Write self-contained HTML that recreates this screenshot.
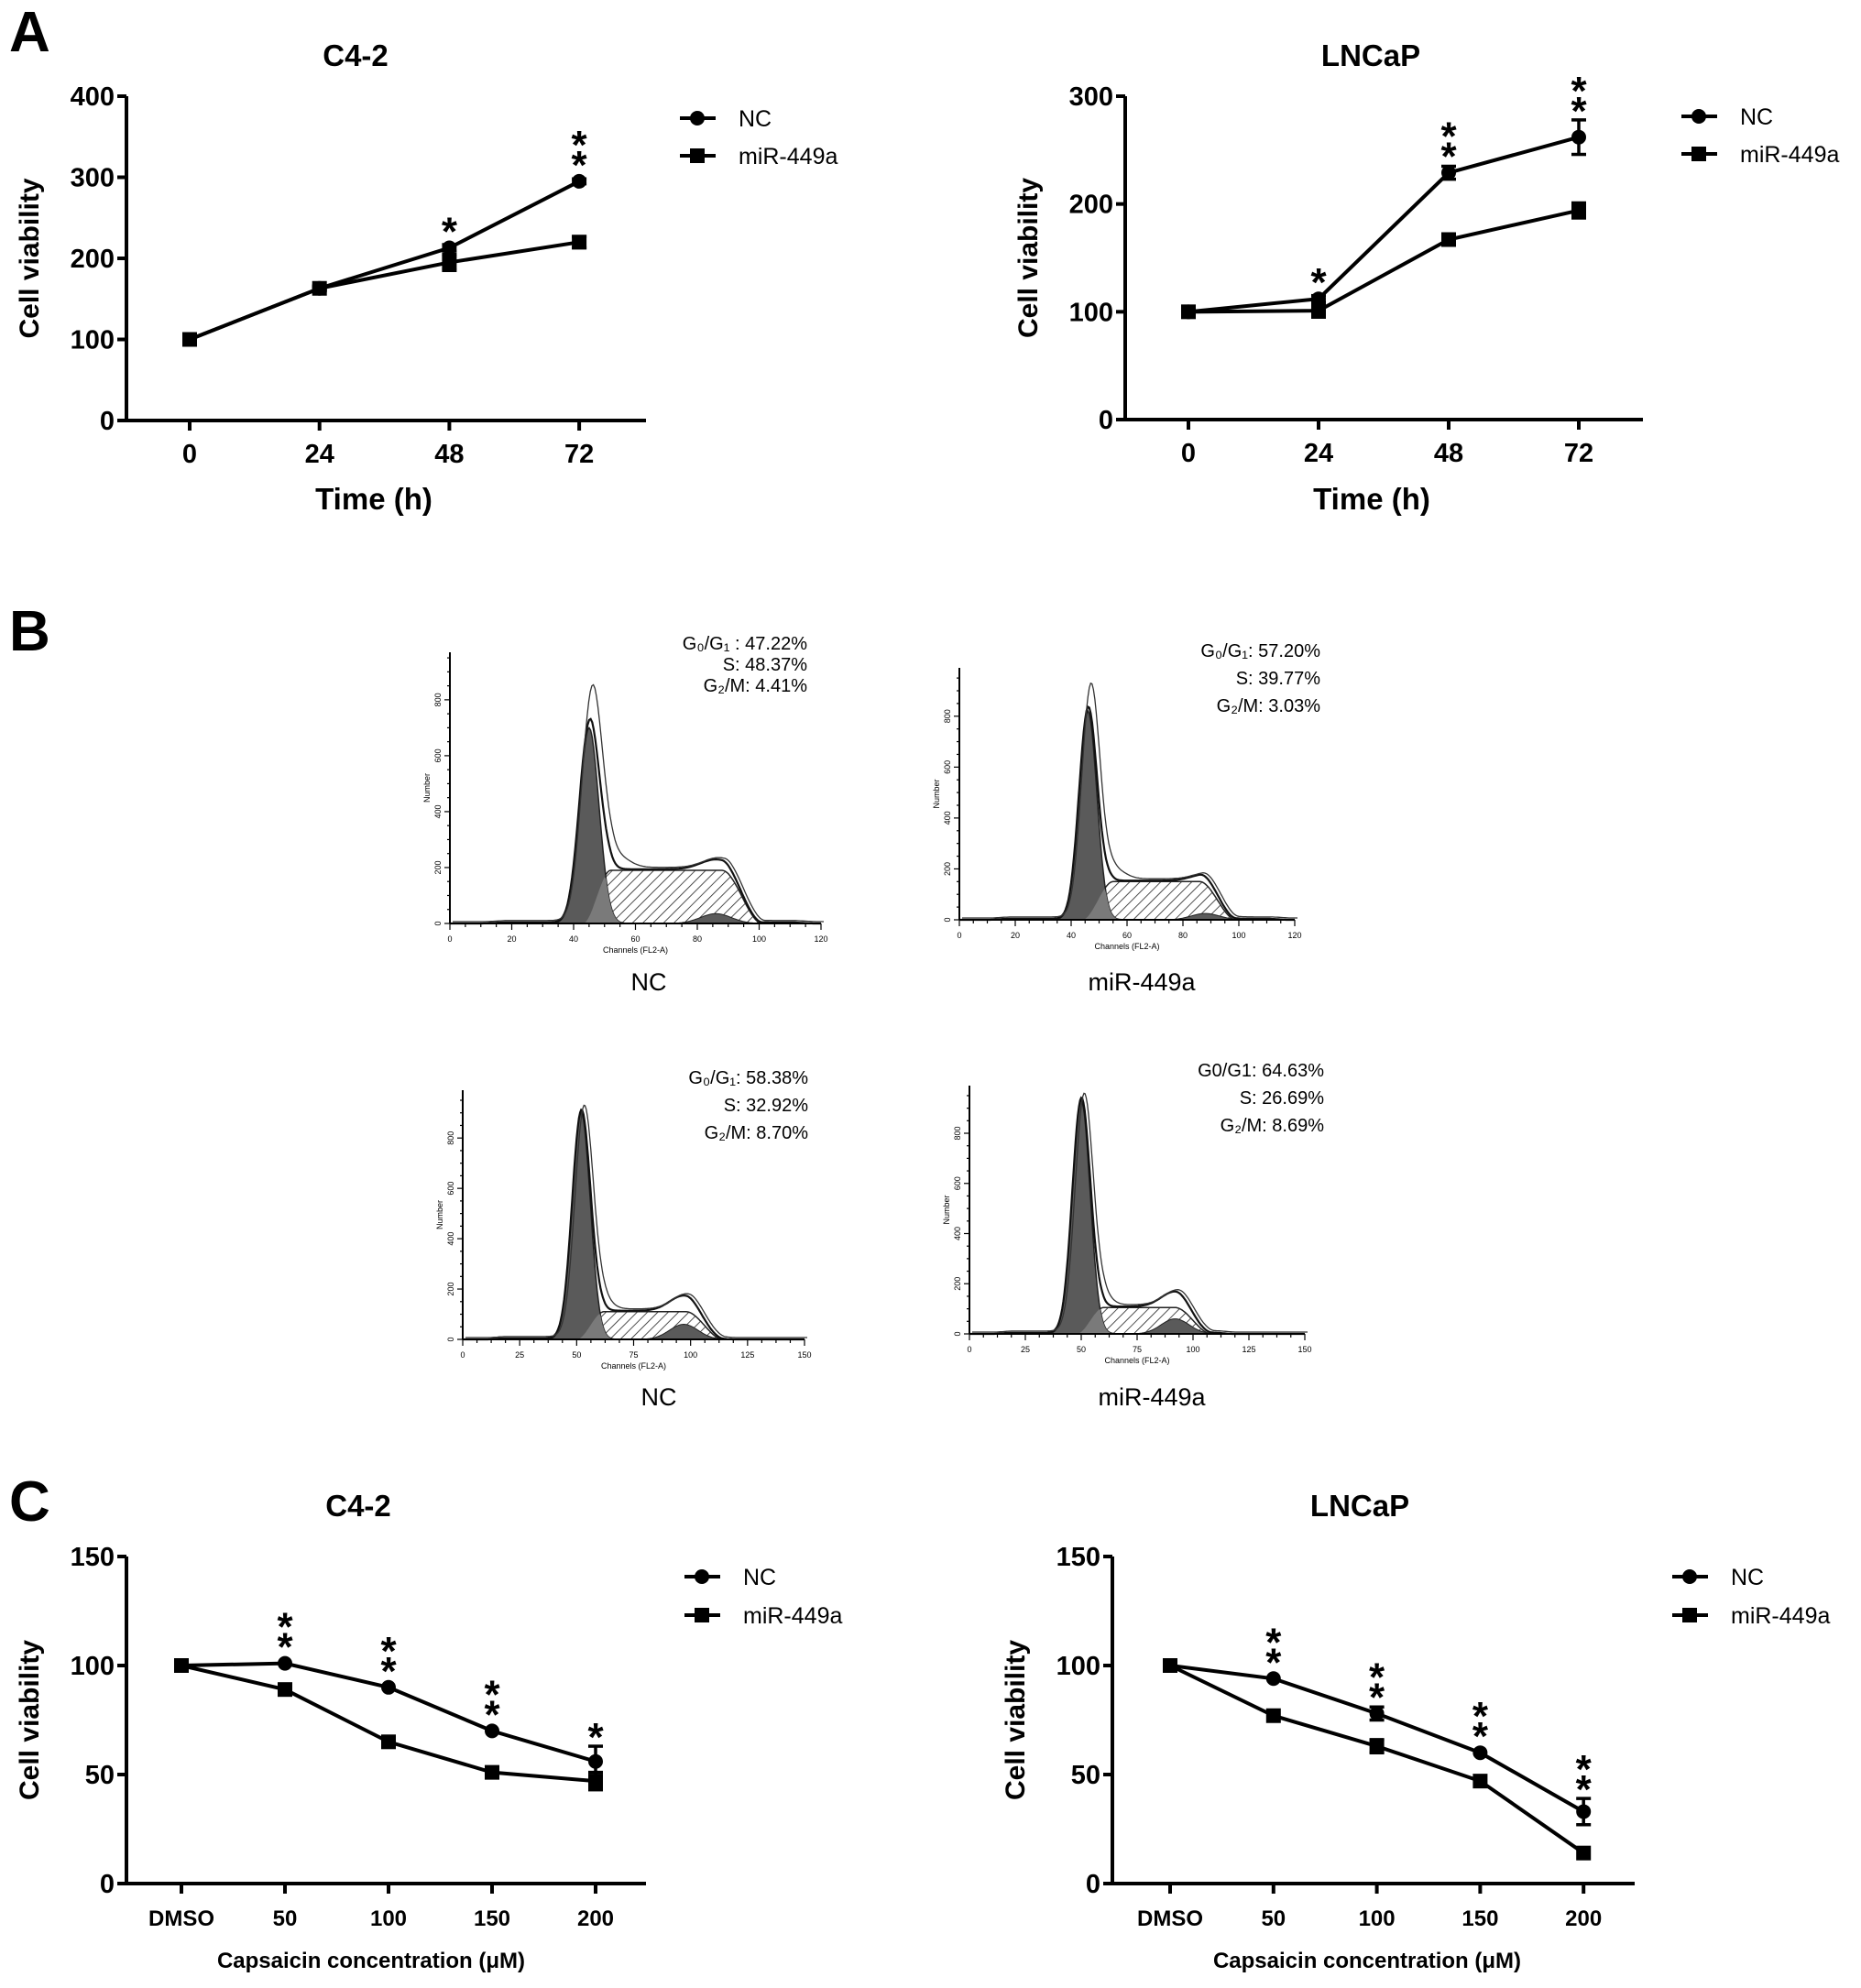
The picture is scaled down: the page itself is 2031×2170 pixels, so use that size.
<!DOCTYPE html>
<html><head><meta charset="utf-8"><style>
html,body{margin:0;padding:0;background:#fff}
svg{display:block}
.tk{font-family:"Liberation Sans Narrow","Liberation Sans",sans-serif;font-weight:bold;font-size:29px}
.tkc{font-family:"Liberation Sans",sans-serif;font-weight:bold;font-size:24px}
.ttl{font-family:"Liberation Sans Narrow","Liberation Sans",sans-serif;font-weight:bold;font-size:33px}
.yl{font-family:"Liberation Sans",sans-serif;font-weight:bold;font-size:30px}
.lg{font-family:"Liberation Sans",sans-serif;font-size:25px}
.pl{font-family:"Liberation Sans",sans-serif;font-weight:bold;font-size:62px}
.st{font-family:"Liberation Sans",sans-serif;font-weight:bold;font-size:44px}
.fa{font-family:"Liberation Sans Narrow","Liberation Sans",sans-serif;font-size:20px}
.fl{font-family:"Liberation Sans",sans-serif;font-size:27px}
.sm{font-family:"Liberation Sans",sans-serif;font-size:9px}
</style></head><body>
<svg id="fig" width="2031" height="2170" viewBox="0 0 2031 2170" xmlns="http://www.w3.org/2000/svg">
<defs><pattern id="hatch" patternUnits="userSpaceOnUse" width="8" height="8" patternTransform="rotate(45)"><line x1="0" y1="0" x2="0" y2="8" stroke="#222" stroke-width="1.6"/></pattern></defs>
<text class="pl" x="10" y="56">A</text>
<text class="pl" x="10" y="710">B</text>
<text class="pl" x="10" y="1660">C</text>
</svg>
<script>
// ---- Panel A left (C4-2 time) ----
const aCats=["0","24","48","72"];
const aLeftNC=[100,163,213,295];
const aLeftNCErr=[0,2,4,3];
const aLeftMiR=[100,163,195,220];
const aLeftMiRErr=[0,3,10,7];
const aLeftStars=[0,0,1,2];
const aLeftTicks=[0,100,200,300,400];
// ---- Panel A right (LNCaP time) ----
const aRightNC=[100,112,229,262];
const aRightNCErr=[0,3,6,16];
const aRightMiR=[100,101,167,194];
const aRightMiRErr=[0,6,4,7];
const aRightStars=[0,1,2,2];
const aRightTicks=[0,100,200,300];
// ---- Panel C ----
const cCats=["DMSO","50","100","150","200"];
const cLeftNC=[100,101,90,70,56];
const cLeftNCErr=[1,1,1,1,7];
const cLeftMiR=[100,89,65,51,47];
const cLeftMiRErr=[1,1,2,1,4];
const cLeftStars=[0,2,2,2,1];
const cRightNC=[100,94,78,60,33];
const cRightNCErr=[1,1,3,1,6];
const cRightMiR=[100,77,63,47,14];
const cRightMiRErr=[1,1,3,1,1];
const cRightStars=[0,2,2,2,2];
const cTicks=[0,50,100,150];
// ---- Panel B histograms: [G1 mean, G1 height, raw peak, S level, S start, S end, G2 mean, G2 height]
const bNC1=[45,700,810,190,52,88,86,35];
const bMiR1=[46,820,900,150,55,86,88,25];
const bNC2=[52,900,905,110,62,98,97,60];
const bMiR2=[50,930,935,105,60,92,92,60];
const bText1=["G\u2080/G\u2081 : 47.22%","S: 48.37%","G\u2082/M:   4.41%"];
const bText2=["G\u2080/G\u2081:  57.20%","S:  39.77%","G\u2082/M:    3.03%"];
const bText3=["G\u2080/G\u2081:  58.38%","S:  32.92%","G\u2082/M:    8.70%"];
const bText4=["G0/G1: 64.63%","S: 26.69%","G\u2082/M:    8.69%"];

const svg=document.getElementById('fig');
const NS="http://www.w3.org/2000/svg";
function mk(tag,attrs,parent){const e=document.createElementNS(NS,tag);for(const k in attrs)e.setAttribute(k,attrs[k]);(parent||svg).appendChild(e);return e;}

function lineChart(c){
  const g=mk('g',{});
  
  
  const ys=v=>c.y0-(v/c.ymax)*(c.y0-c.ytop);
  const xs=i=>c.x0+i*c.dx;
  const ax=mk('line',{x1:c.ax,y1:c.ytop,x2:c.ax,y2:c.y0,stroke:'#000','stroke-width':4},g);
  
  
  const bx=mk('line',{x1:c.ax-10,y1:c.y0,x2:c.xend,y2:c.y0,stroke:'#000','stroke-width':4},g);
  
  
  c.ticks.forEach(t=>{
    mk('line',{x1:c.ax-10,y1:ys(t),x2:c.ax,y2:ys(t),stroke:'#000','stroke-width':4},g);
    const tx=mk('text',{x:c.ax-13,y:ys(t)+10,'text-anchor':'end',class:'tk'},g);
    tx.textContent=t;
    
    
  });
  c.cats.forEach((cat,i)=>{
    mk('line',{x1:xs(i),y1:c.y0,x2:xs(i),y2:c.y0+11,stroke:'#000','stroke-width':4},g);
    const tx=mk('text',{x:xs(i),y:c.y0+46,'text-anchor':'middle',class:c.tkClass},g);
    tx.textContent=cat;
    
    
  });
  const t=mk('text',{x:c.tx,y:c.ty,'text-anchor':'middle',class:'ttl'},g);t.textContent=c.title;
  
  
  const yl=mk('text',{x:0,y:0,'text-anchor':'middle',class:'yl',transform:`translate(${c.ax-96},${(c.ytop+c.y0)/2}) rotate(-90)`},g);yl.textContent='Cell viability';
  
  
  const xl=mk('text',{x:c.xlx,y:c.xly,'text-anchor':'middle',class:c.xlClass},g);xl.textContent=c.xlabel;
  
  
  [[c.miR,c.miRErr,'sq','miR-449a'],[c.nc,c.ncErr,'ci','NC']].forEach(([vals,errs,m,nm])=>{
    const pts=vals.map((v,i)=>xs(i)+','+ys(v)).join(' ');
    const pl=mk('polyline',{points:pts,fill:'none',stroke:'#000','stroke-width':4},g);
    
    
    vals.forEach((v,i)=>{
      const e=errs[i];
      if(e>1.5){
        mk('line',{x1:xs(i),y1:ys(v+e),x2:xs(i),y2:ys(v-e),stroke:'#000','stroke-width':3.5},g);
        mk('line',{x1:xs(i)-8,y1:ys(v+e),x2:xs(i)+8,y2:ys(v+e),stroke:'#000','stroke-width':3.5},g);
        mk('line',{x1:xs(i)-8,y1:ys(v-e),x2:xs(i)+8,y2:ys(v-e),stroke:'#000','stroke-width':3.5},g);
      }
      let mEl;
      if(m==='sq') mEl=mk('rect',{x:xs(i)-8,y:ys(v)-8,width:16,height:16,fill:'#000'},g);
      else mEl=mk('circle',{cx:xs(i),cy:ys(v),r:8,fill:'#000'},g);
      
      
    });
  });
  c.stars.forEach((n,i)=>{
    const top=Math.min(ys(c.nc[i]+c.ncErr[i]),ys(c.nc[i])-8);
    for(let k=0;k<n;k++){
      const cy=top-20-k*22;
      const s=mk('text',{x:xs(i),y:cy+25,'text-anchor':'middle',class:'st'},g);
      s.textContent='*';
      
      
    }
  });
  [['NC','ci',0],['miR-449a','sq',1]].forEach(([nm,m,k])=>{
    const ly=c.ly+k*c.lgap;
    const lg=mk('g',{},g);
    
    
    mk('line',{x1:c.lx,y1:ly,x2:c.lx+39,y2:ly,stroke:'#000','stroke-width':4},lg);
    if(m==='ci')mk('circle',{cx:c.lx+19,cy:ly,r:8,fill:'#000'},lg);
    else mk('rect',{x:c.lx+11,y:ly-8,width:16,height:16,fill:'#000'},lg);
    const lt=mk('text',{x:c.lx+64,y:ly+9,class:'lg'},lg);lt.textContent=nm;
  });
}

lineChart({name:'chart-a-c42',ax:138,y0:459,ytop:105,ymax:400,x0:207,dx:141.7,xend:705,ticks:aLeftTicks,cats:aCats,tkClass:'tk',
  nc:aLeftNC,ncErr:aLeftNCErr,miR:aLeftMiR,miRErr:aLeftMiRErr,stars:aLeftStars,
  title:'C4-2',tx:388,ty:72,xlabel:'Time (h)',xlx:408,xly:556,xlClass:'ttl',lx:742,ly:129,lgap:41});
lineChart({name:'chart-a-lncap',ax:1228,y0:458,ytop:105,ymax:300,x0:1297,dx:142,xend:1793,ticks:aRightTicks,cats:aCats,tkClass:'tk',
  nc:aRightNC,ncErr:aRightNCErr,miR:aRightMiR,miRErr:aRightMiRErr,stars:aRightStars,
  title:'LNCaP',tx:1496,ty:72,xlabel:'Time (h)',xlx:1497,xly:556,xlClass:'ttl',lx:1835,ly:127,lgap:41});
lineChart({name:'chart-c-c42',ax:138,y0:2056,ytop:1699,ymax:150,x0:198,dx:113,xend:705,ticks:cTicks,cats:cCats,tkClass:'tkc',
  nc:cLeftNC,ncErr:cLeftNCErr,miR:cLeftMiR,miRErr:cLeftMiRErr,stars:cLeftStars,
  title:'C4-2',tx:391,ty:1655,xlabel:'Capsaicin concentration (\u03bcM)',xlx:405,xly:2148,xlClass:'tkc',lx:747,ly:1721,lgap:42});
lineChart({name:'chart-c-lncap',ax:1214,y0:2056,ytop:1699,ymax:150,x0:1277,dx:112.8,xend:1784,ticks:cTicks,cats:cCats,tkClass:'tkc',
  nc:cRightNC,ncErr:cRightNCErr,miR:cRightMiR,miRErr:cRightMiRErr,stars:cRightStars,
  title:'LNCaP',tx:1484,ty:1655,xlabel:'Capsaicin concentration (\u03bcM)',xlx:1492,xly:2148,xlClass:'tkc',lx:1825,ly:1721,lgap:42});

function gauss(x,m,sd,h){return h*Math.exp(-((x-m)*(x-m))/(2*sd*sd));}
function ss(a,b,x){const t=Math.min(1,Math.max(0,(x-a)/(b-a)));return t*t*(3-2*t);}
function hist(c){
  const [m,h1,raw,sl,s0,s1,m2,h2]=c.p;
  const g=mk('g',{});
  
  
  const X=v=>c.ox+v/c.xmax*c.w, Y=v=>c.oy-v/c.ymax*c.h;
  const sd=3.2*(c.xmax/120);
  const sF=x=>sl*ss(m-2,s0,x)*(1-ss(s1,s1+13*(c.xmax/120),x));
  const g1=x=>gauss(x,m,sd,h1), g2=x=>gauss(x,m2,5*(c.xmax/120),h2);
  const xsArr=[];for(let x=0;x<=c.xmax;x+=0.5)xsArr.push(x);
  const path=f=>'M'+X(0)+','+Y(0)+' '+xsArr.map(x=>'L'+X(x).toFixed(1)+','+Y(f(x)).toFixed(1)).join(' ')+' L'+X(c.xmax)+','+Y(0)+'Z';
  const line=f=>'M'+xsArr.map(x=>X(x).toFixed(1)+','+Y(f(x)).toFixed(1)).join(' L');
  mk('path',{d:path(sF),fill:'url(#hatch)',stroke:'#222','stroke-width':1.5},g);
  mk('path',{d:path(g1),fill:'#5a5a5a',stroke:'#222','stroke-width':1.5},g);
  mk('path',{d:path(g2),fill:'#5a5a5a',stroke:'#222','stroke-width':1},g);
  mk('path',{d:path(x=>Math.min(g1(x),sF(x))),fill:'#7a7a7a',stroke:'none'},g);
  const tot=x=>g1(x)+sF(x)+g2(x)+4*ss(10,18,x)*(1-ss(110,118,x));
  mk('path',{d:line(tot),fill:'none',stroke:'#111','stroke-width':2.2},g);
  const rw=x=>tot(x)*1+gauss(x,m,sd*1.15,raw-h1)+gauss(x,m+8,4,40);
  mk('path',{d:line(rw),fill:'none',stroke:'#333','stroke-width':1.3,transform:'translate(3,-2)'},g);
  mk('line',{x1:c.ox,y1:c.oy,x2:c.ox,y2:c.oy-c.h,stroke:'#000','stroke-width':2},g);
  mk('line',{x1:c.ox,y1:c.oy,x2:c.ox+c.w,y2:c.oy,stroke:'#000','stroke-width':2},g);
  for(let v=0;v<=c.ymax;v+=50){mk('line',{x1:c.ox-(v%200?3:6),y1:Y(v),x2:c.ox,y2:Y(v),stroke:'#000','stroke-width':1.2},g);}
  for(let v=0;v<=800;v+=200){const t=mk('text',{x:0,y:0,class:'sm','text-anchor':'middle',transform:`translate(${c.ox-10},${Y(v)}) rotate(-90)`},g);t.textContent=v;}
  const step=c.xmax/120*5;
  for(let v=0;v<=c.xmax;v+=step){mk('line',{x1:X(v),y1:c.oy,x2:X(v),y2:c.oy+((v%(step*4))?4:7),stroke:'#000','stroke-width':1.2},g);}
  for(let v=0;v<=c.xmax;v+=step*4){const t=mk('text',{x:X(v),y:c.oy+20,class:'sm','text-anchor':'middle'},g);t.textContent=v;}
  const cl=mk('text',{x:c.ox+c.w/2,y:c.oy+32,class:'sm','text-anchor':'middle'},g);cl.textContent='Channels (FL2-A)';
  const nl=mk('text',{x:0,y:0,class:'sm','text-anchor':'middle',transform:`translate(${c.ox-22},${c.oy-c.h/2}) rotate(-90)`},g);nl.textContent='Number';
  c.txt.forEach((s,i)=>{const t=mk('text',{x:c.tx,y:c.ty+i*c.tg,class:'fa','text-anchor':'end','font-size':c.fs},g);t.textContent=s;
    
    });
  const lb=mk('text',{x:c.lx,y:c.ly,class:'fl','text-anchor':'middle'},g);lb.textContent=c.label;
  
  
}
hist({name:'histogram-nc-1',ox:491,oy:1008,w:405,h:296,xmax:120,ymax:970,p:bNC1,txt:bText1,tx:881,ty:709,tg:23,fs:19,label:'NC',lx:708,ly:1081});
hist({name:'histogram-mir-1',ox:1047,oy:1004,w:366,h:275,xmax:120,ymax:990,p:bMiR1,txt:bText2,tx:1441,ty:717,tg:30,fs:22,label:'miR-449a',lx:1246,ly:1081});
hist({name:'histogram-nc-2',ox:505,oy:1462,w:373,h:272,xmax:150,ymax:990,p:bNC2,txt:bText3,tx:882,ty:1183,tg:30,fs:22,label:'NC',lx:719,ly:1534});
hist({name:'histogram-mir-2',ox:1058,oy:1456,w:366,h:271,xmax:150,ymax:990,p:bMiR2,txt:bText4,tx:1445,ty:1175,tg:30,fs:22,label:'miR-449a',lx:1257,ly:1534});
</script>
</body></html>
